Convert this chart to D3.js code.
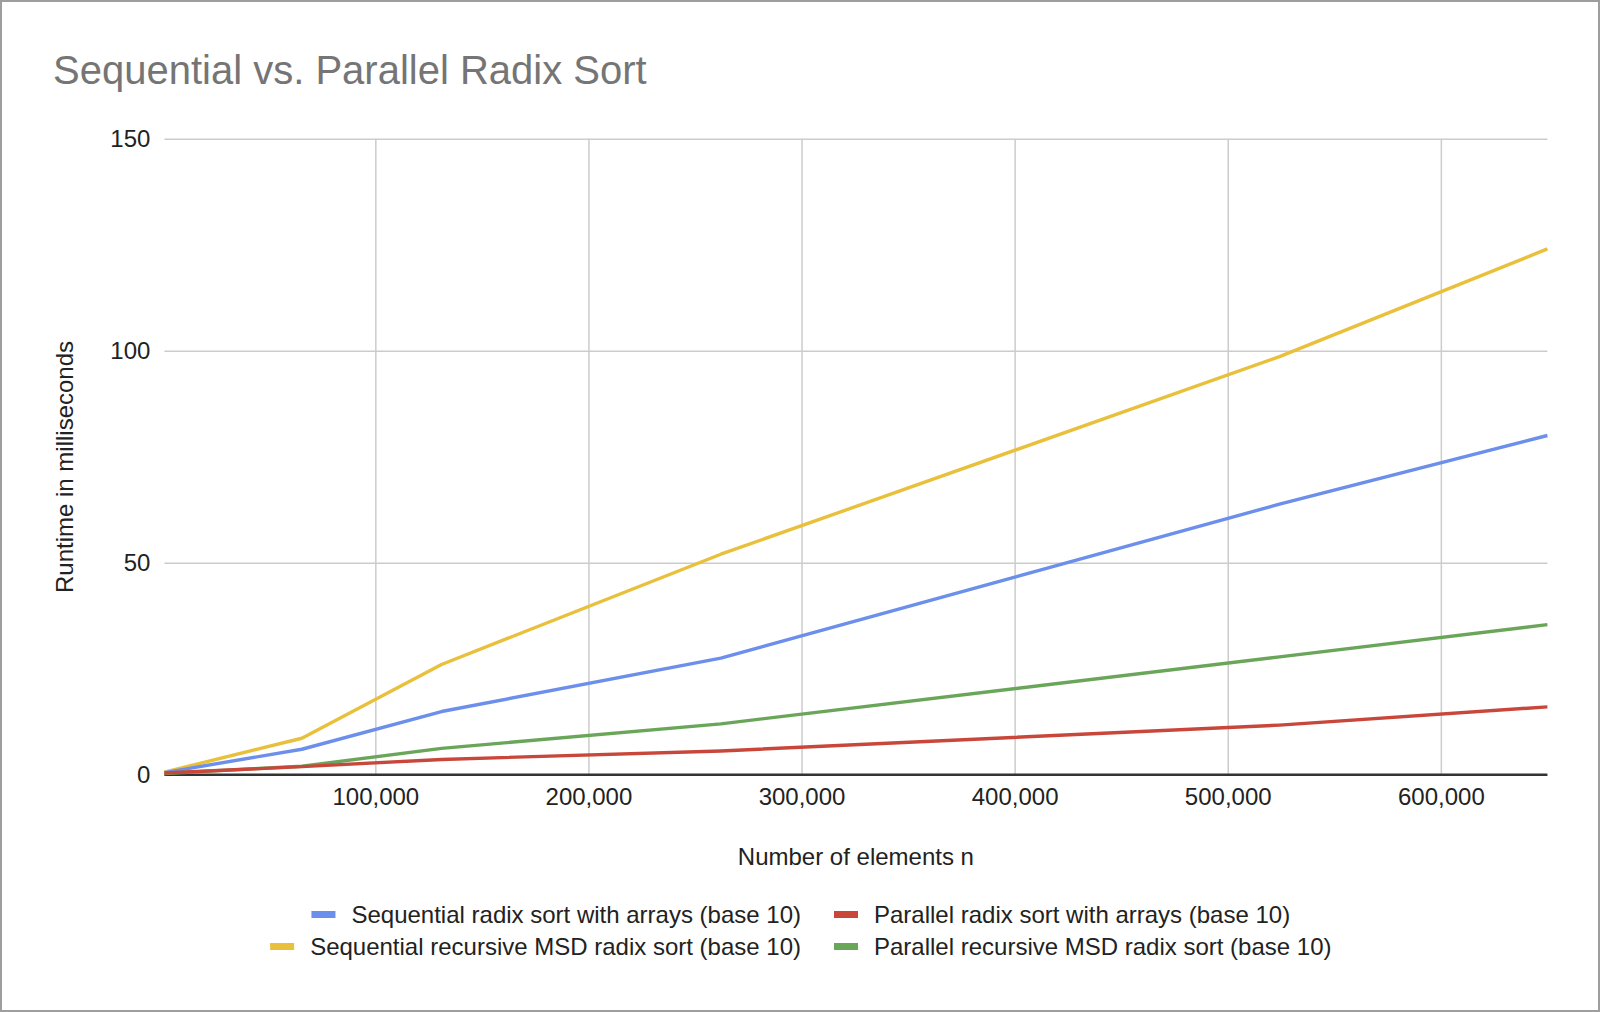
<!DOCTYPE html>
<html>
<head>
<meta charset="utf-8">
<script src="https://cdnjs.cloudflare.com/ajax/libs/d3/7.8.5/d3.min.js"></script>
<style>
  body { margin: 0; background: #fff; }
  svg { display: block; font-family: "Liberation Sans", Arial, sans-serif; }
</style>
</head>
<body>
<div id="chart"></div>
<script>
// data
var nValues = [1024, 65536, 131072, 262144, 524288, 650000];
var seqArrays = [0.5, 6.0, 14.9, 27.5, 63.8, 80.0];
var parArrays = [0.4, 1.9, 3.6, 5.6, 11.7, 16.0];
var seqMSD = [0.6, 8.6, 26.0, 52.0, 98.6, 124.0];
var parMSD = [0.3, 2.0, 6.2, 12.0, 27.8, 35.4];
var xTicks = [100000, 200000, 300000, 400000, 500000, 600000];
var yTicks = [0, 50, 100, 150];

var seriesNames = [
    "Sequential radix sort with arrays (base 10)",
    "Parallel radix sort with arrays (base 10)",
    "Sequential recursive MSD radix sort (base 10)",
    "Parallel recursive MSD radix sort (base 10)"
];
var seriesValues = [seqArrays, parArrays, seqMSD, parMSD];
var colors = ["#6b8fea", "#c9473a", "#e9c03b", "#6aa65a"];

var W = 1600, H = 1012;
var plot = { left: 164.4, right: 1547.4, top: 138.7, bottom: 774.7 };
var fs = 24;

var svg = d3.select("#chart").append("svg")
    .attr("width", W)
    .attr("height", H);

svg.append("rect")
    .attr("x", 1).attr("y", 1)
    .attr("width", W - 2).attr("height", H - 2)
    .attr("fill", "#fff")
    .attr("stroke", "#9e9e9e")
    .attr("stroke-width", 2);

var scaleX = d3.scaleLinear().domain([nValues[0], nValues[nValues.length - 1]]).range([plot.left, plot.right]);
var scaleY = d3.scaleLinear().domain([0, 150]).range([plot.bottom, plot.top]);

// title
svg.append("text")
    .attr("x", 53).attr("y", 84)
    .attr("font-size", 40)
    .attr("fill", "#757575")
    .text("Sequential vs. Parallel Radix Sort");

// horizontal grid + y labels
var yAxis = d3.axisLeft(scaleY)
    .tickValues(yTicks)
    .tickSize(-(plot.right - plot.left))
    .tickPadding(14)
    .tickFormat(d3.format("d"));
var yAxisGroup = svg.append("g")
    .attr("class", "_y")
    .attr("transform", "translate(" + plot.left + ",0)")
    .call(yAxis);
yAxisGroup.select(".domain").remove();
yAxisGroup.selectAll("line").attr("stroke", "#cccccc").attr("stroke-width", 1.5);
yAxisGroup.selectAll("text")
    .attr("font-size", fs)
    .attr("fill", "#222")
    .attr("font-family", "Liberation Sans, Arial, sans-serif");

// vertical grid + x labels
var xAxis = d3.axisBottom(scaleX)
    .tickValues(xTicks)
    .tickSize(-(plot.bottom - plot.top))
    .tickPadding(13)
    .tickFormat(d3.format(","));
var xAxisGroup = svg.append("g")
    .attr("class", "_x")
    .attr("transform", "translate(0," + plot.bottom + ")")
    .call(xAxis);
xAxisGroup.select(".domain").remove();
xAxisGroup.selectAll("line").attr("stroke", "#cccccc").attr("stroke-width", 1.5);
xAxisGroup.selectAll("text")
    .attr("font-size", fs)
    .attr("fill", "#222")
    .attr("font-family", "Liberation Sans, Arial, sans-serif");

// zero baseline
svg.append("line")
    .attr("x1", plot.left).attr("x2", plot.right)
    .attr("y1", scaleY(0)).attr("y2", scaleY(0))
    .attr("stroke", "#333")
    .attr("stroke-width", 2.5);

// lines
var line = d3.line()
    .x(function (d) { return scaleX(d.n); })
    .y(function (d) { return scaleY(d.v); });

var drawOrder = [2, 0, 3, 1];
drawOrder.forEach(function (s) {
    var pts = nValues.map(function (n, i) { return { n: n, v: seriesValues[s][i] }; });
    svg.append("path")
        .datum(pts)
        .attr("fill", "none")
        .attr("stroke", colors[s])
        .attr("stroke-width", 3.4)
        .attr("stroke-linejoin", "round")
        .attr("d", line);
});

// axis titles
svg.append("text")
    .attr("x", (plot.left + plot.right) / 2)
    .attr("y", 865)
    .attr("text-anchor", "middle")
    .attr("font-size", fs)
    .attr("fill", "#222")
    .text("Number of elements n");

svg.append("text")
    .attr("transform", "translate(73," + 467 + ") rotate(-90)")
    .attr("text-anchor", "middle")
    .attr("font-size", fs)
    .attr("fill", "#222")
    .text("Runtime in milliseconds");

// legend: two columns, left one right-aligned
var legendRows = [923, 955];
var colSplit = 818;
seriesNames.forEach(function (name, i) {
    var row = Math.floor(i / 2), col = i % 2;
    var g = svg.append("g").attr("class", "legend");
    var ty = legendRows[row];
    if (col === 1) {
        g.append("rect")
            .attr("x", colSplit + 16).attr("y", ty - 12)
            .attr("width", 24).attr("height", 7)
            .attr("fill", colors[i]);
        g.append("text")
            .attr("x", colSplit + 56).attr("y", ty)
            .attr("font-size", fs)
            .attr("fill", "#222")
            .text(name);
    } else {
        var t = g.append("text")
            .attr("x", colSplit - 17).attr("y", ty)
            .attr("text-anchor", "end")
            .attr("font-size", fs)
            .attr("fill", "#222")
            .text(name);
        var tw = t.node().getComputedTextLength();
        g.append("rect")
            .attr("x", colSplit - 17 - tw - 16 - 24).attr("y", ty - 12)
            .attr("width", 24).attr("height", 7)
            .attr("fill", colors[i]);
    }
});
</script>
</body>
</html>
